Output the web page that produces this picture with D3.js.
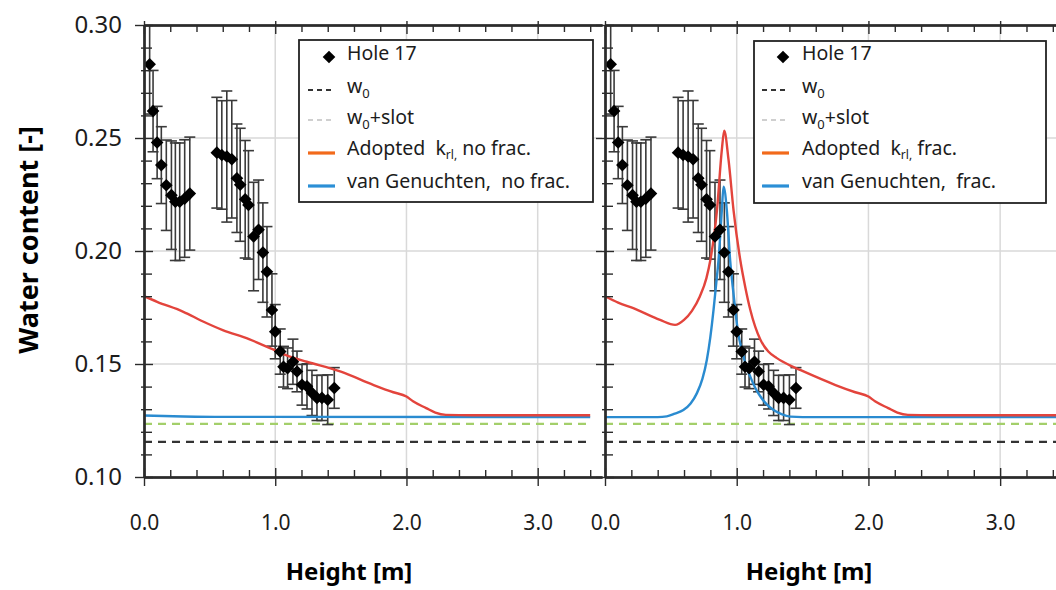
<!DOCTYPE html>
<html><head><meta charset="utf-8">
<script src="https://cdn.jsdelivr.net/npm/d3@7"></script>
<style>body{margin:0;background:#fff}svg{display:block}text{font-family:"Noto Sans",sans-serif}</style>
</head><body><svg id="c" width="1056" height="590"></svg>
<script>
// ---------- data ----------
const holeX = [0.043,0.069,0.100,0.132,0.170,0.209,0.239,0.272,0.310,0.349,
  0.555,0.593,0.631,0.669,0.708,0.733,0.771,0.796,0.835,0.873,0.906,0.937,
  0.975,1.000,1.038,1.063,1.094,1.135,1.166,1.204,1.242,1.280,1.318,1.356,1.400,1.450];
const holeY = [0.2826,0.2619,0.2480,0.2380,0.2291,0.2247,0.2218,0.2218,0.2232,0.2254,
  0.2435,0.2425,0.2418,0.2406,0.2322,0.2293,0.2229,0.2204,0.2064,0.2094,0.1993,0.1908,
  0.1739,0.1643,0.1555,0.1488,0.1481,0.1510,0.1467,0.1408,0.1401,0.1372,0.1350,0.1350,0.1342,0.1394];
const holeErr = [0.022,0.018,0.016,0.017,0.020,0.024,0.026,0.026,0.026,0.025,
  0.0245,0.024,0.029,0.026,0.024,0.025,0.026,0.024,0.024,0.022,0.022,0.020,
  0.016,0.012,0.010,0.009,0.009,0.010,0.009,0.009,0.010,0.010,0.010,0.010,0.011,0.009];

const w0 = 0.1155;
const w0slot = 0.1235;

const redLeftX = [0,0.1,0.3,0.45,0.6,0.8,0.96,1.1,1.24,1.5,1.75,1.9,2.0,2.05,2.15,2.22,2.3,2.5,3.4];
const redLeftY = [0.180,0.1775,0.1731,0.1688,0.1650,0.1610,0.1570,0.1535,0.1510,0.1466,0.1407,0.1375,0.1356,0.1335,0.1305,0.1285,0.1275,0.1273,0.1273];
const blueLeftX = [0,0.3,0.6,3.4];
const blueLeftY = [0.1272,0.1268,0.1266,0.1265];

const redRightX = [0,0.1,0.215,0.418,0.532,0.6,0.66,0.72,0.77,0.80,0.85,0.887,0.905,0.938,0.976,1.027,1.065,1.103,1.18,1.24,1.305,1.4,1.48,1.75,1.9,2.0,2.05,2.15,2.22,2.3,2.5,3.5];
const redRightY = [0.180,0.1772,0.1747,0.1695,0.1673,0.1695,0.1735,0.1799,0.188,0.196,0.218,0.2447,0.2532,0.2403,0.218,0.196,0.184,0.174,0.1607,0.1555,0.1526,0.1495,0.1474,0.1407,0.1375,0.1356,0.1335,0.1305,0.1285,0.1275,0.1273,0.1273];
const blueRightX = [0,0.4,0.469,0.53,0.595,0.65,0.697,0.74,0.773,0.8,0.824,0.845,0.862,0.887,0.90,0.925,0.95,0.97,0.989,1.01,1.04,1.07,1.103,1.14,1.18,1.23,1.28,1.34,1.407,1.5,3.5];
const blueRightY = [0.1265,0.1265,0.1268,0.128,0.1296,0.1325,0.137,0.1435,0.1518,0.162,0.1739,0.186,0.196,0.218,0.2285,0.218,0.196,0.184,0.1739,0.164,0.156,0.1495,0.1444,0.1395,0.1356,0.132,0.1296,0.1278,0.1267,0.1265,0.1265];

const xTicks = [0,1,2,3];
const xTickLabels = ["0.0","1.0","2.0","3.0"];
const yTicks = [0.10,0.15,0.20,0.25,0.30];
const yTickLabels = ["0.10","0.15","0.20","0.25","0.30"];

const legendLeft = ["Hole 17","w0","w0+slot","Adopted\u00a0\u00a0k_rl, no frac.","van Genuchten,\u00a0\u00a0no frac."];
const legendRight = ["Hole 17","w0","w0+slot","Adopted\u00a0\u00a0k_rl, frac.","van Genuchten,\u00a0\u00a0frac."];

// ---------- drawing ----------
const svg = d3.select("#c");
const y = d3.scaleLinear().domain([0.10,0.30]).range([477,25]);
const Y0 = 477, Y1 = 25;

const C = {axis:"#2b2b2b", grid:"#d9d9d9", red:"#e3443c", blue:"#2a8bd0", green:"#a3cf6a", black:"#333",
  legOrange:"#f26a1b", legBlue:"#2b8fd6", legGrey:"#cfcfcf", text:"#1c1c1c"};

const panels = [
  {range:[144,602], domain:[0,3.49], end:3.4, red:[redLeftX,redLeftY], blue:[blueLeftX,blueLeftY],
   legend:{x:299,y:40,w:294,h:162,sx0:308,sx1:335,dx:329,tx:347}, labels:legendLeft, showY:true, titleX:349},
  {range:[605,1066], domain:[0,3.5], end:3.5, red:[redRightX,redRightY], blue:[blueRightX,blueRightY],
   legend:{x:754,y:41,w:292,h:162,sx0:762,sx1:789,dx:783,tx:802}, labels:legendRight, showY:false, titleX:809}
];

const yMinor = d3.range(0.11,0.30,0.01).filter(v => Math.abs(v*20 - Math.round(v*20)) > 1e-6);

panels.forEach((p,pi) => {
  const x = d3.scaleLinear().domain(p.domain).range(p.range);
  const xMinor = d3.range(0.2,p.domain[1],0.2).filter(v => Math.abs(v - Math.round(v)) > 1e-6);
  const g = svg.append("g");

  // grid
  g.selectAll(".gx").data(xTicks.filter(v=>v>0)).join("line")
    .attr("x1",d=>x(d)).attr("x2",d=>x(d)).attr("y1",Y1).attr("y2",Y0)
    .attr("stroke",C.grid).attr("stroke-width",1.5);
  g.selectAll(".gy").data(yTicks.filter(v=>v>0.1 && v<0.3)).join("line")
    .attr("x1",p.range[0]).attr("x2",p.range[1]).attr("y1",d=>y(d)).attr("y2",d=>y(d))
    .attr("stroke",C.grid).attr("stroke-width",1.5);

  // clip
  const cid = "clip"+pi;
  svg.append("clipPath").attr("id",cid).append("rect")
    .attr("x",p.range[0]).attr("y",Y1).attr("width",p.range[1]-p.range[0]).attr("height",Y0-Y1);
  const plot = g.append("g").attr("clip-path",`url(#${cid})`);

  // reference lines
  [[w0,C.black],[w0slot,C.green]].forEach(([v,col]) => {
    plot.append("line").attr("x1",x(0)).attr("x2",x(p.end)).attr("y1",y(v)).attr("y2",y(v))
      .attr("stroke",col).attr("stroke-width",2.2).attr("stroke-dasharray","8,6");
  });

  // error bars
  const eb = plot.append("g").attr("stroke","#3a3a3a").attr("stroke-width",1.6);
  holeX.forEach((hx,i) => {
    const cx = x(hx), t = y(holeY[i]+holeErr[i]), b = y(holeY[i]-holeErr[i]);
    eb.append("line").attr("x1",cx).attr("x2",cx).attr("y1",t).attr("y2",b);
    eb.append("line").attr("x1",cx-5.5).attr("x2",cx+5.5).attr("y1",t).attr("y2",t);
    eb.append("line").attr("x1",cx-5.5).attr("x2",cx+5.5).attr("y1",b).attr("y2",b);
  });

  // curves
  const line = d3.line().x(d=>x(d[0])).y(d=>y(d[1])).curve(d3.curveMonotoneX);
  plot.append("path").datum(d3.zip(p.blue[0],p.blue[1])).attr("d",line)
    .attr("fill","none").attr("stroke",C.blue).attr("stroke-width",2.4);
  plot.append("path").datum(d3.zip(p.red[0],p.red[1])).attr("d",line)
    .attr("fill","none").attr("stroke",C.red).attr("stroke-width",2.4);

  // points
  const sym = d3.symbol().type(d3.symbolSquare).size(80);
  plot.selectAll(".pt").data(d3.zip(holeX,holeY)).join("path")
    .attr("d",sym).attr("fill","#000")
    .attr("transform",d=>`translate(${x(d[0])},${y(d[1])}) rotate(45)`);

  // axes
  const styleAxis = sel => { sel.select(".domain").attr("stroke",C.axis).attr("stroke-width",1.8);
    sel.selectAll(".tick line").attr("stroke",C.axis).attr("stroke-width",1.4); };

  const bot = g.append("g").attr("transform",`translate(0,${Y0})`)
    .call(d3.axisBottom(x).tickValues(xTicks).tickSize(9).tickSizeOuter(0).tickPadding(29)
      .tickFormat((d,i)=>xTickLabels[i]));
  bot.selectAll("text").attr("font-size",21).attr("fill",C.text).attr("font-family","Noto Sans");
  styleAxis(bot);
  g.append("g").attr("transform",`translate(0,${Y0})`)
    .call(d3.axisBottom(x).tickValues(xTicks).tickSize(-9).tickSizeOuter(0).tickFormat("")).call(styleAxis);
  g.append("g").attr("transform",`translate(0,${Y0})`)
    .call(d3.axisBottom(x).tickValues(xMinor).tickSize(-7).tickSizeOuter(0).tickFormat("")).call(styleAxis);

  g.append("g").attr("transform",`translate(0,${Y1})`)
    .call(d3.axisTop(x).tickValues(xTicks).tickSize(-9).tickSizeOuter(0).tickFormat("")).call(styleAxis);
  g.append("g").attr("transform",`translate(0,${Y1})`)
    .call(d3.axisTop(x).tickValues(xTicks).tickSize(4).tickSizeOuter(0).tickFormat("")).call(styleAxis);
  g.append("g").attr("transform",`translate(0,${Y1})`)
    .call(d3.axisTop(x).tickValues(xMinor).tickSize(-7).tickSizeOuter(0).tickFormat("")).call(styleAxis);

  const left = g.append("g").attr("transform",`translate(${p.range[0]},0)`)
    .call(d3.axisLeft(y).tickValues(yTicks).tickSize(9).tickSizeOuter(0).tickPadding(13)
      .tickFormat((d,i)=> p.showY ? yTickLabels[i] : ""));
  left.selectAll("text").attr("font-size",24).attr("fill",C.text).attr("font-family","Noto Sans");
  styleAxis(left);
  g.append("g").attr("transform",`translate(${p.range[0]},0)`)
    .call(d3.axisLeft(y).tickValues(yTicks).tickSize(-9).tickSizeOuter(0).tickFormat("")).call(styleAxis);
  g.append("g").attr("transform",`translate(${p.range[0]},0)`)
    .call(d3.axisLeft(y).tickValues(yMinor).tickSize(-8).tickSizeOuter(0).tickFormat("")).call(styleAxis);
  g.append("g").attr("transform",`translate(${p.range[0]},0)`)
    .call(d3.axisLeft(y).tickValues(yMinor).tickSize(3).tickSizeOuter(0).tickFormat("")).call(styleAxis);

  // x title
  svg.append("text").attr("x",p.titleX).attr("y",580).attr("text-anchor","middle")
    .attr("font-size",24).attr("font-weight","bold").attr("fill","#000").text("Height [m]");

  // legend
  const L = p.legend;
  const lg = svg.append("g");
  lg.append("rect").attr("x",L.x).attr("y",L.y).attr("width",L.w).attr("height",L.h)
    .attr("fill","#fff").attr("stroke","#222").attr("stroke-width",1.8);
  const rows = [57,90,120,153,186];
  const base = [60,93,124,155,188];
  lg.append("path").attr("d",sym).attr("fill","#000")
    .attr("transform",`translate(${L.dx},${rows[0]}) rotate(45)`);
  [[1,C.black,"5,4",1.8],[2,C.legGrey,"5,4",1.8],[3,C.legOrange,null,3.2],[4,C.legBlue,null,3.2]].forEach(([r,col,da,sw])=>{
    const l = lg.append("line").attr("x1",L.sx0).attr("x2",L.sx1).attr("y1",rows[r]).attr("y2",rows[r])
      .attr("stroke",col).attr("stroke-width",sw);
    if (da) l.attr("stroke-dasharray",da);
  });
  p.labels.forEach((lab,i) => {
    const t = lg.append("text").attr("x",L.tx).attr("y",base[i]).attr("font-size",19.5).attr("fill",C.text);
    if (lab.startsWith("w0")) {
      t.append("tspan").text("w");
      t.append("tspan").attr("font-size",13).attr("dy",5).text("0");
      if (lab.length > 2) t.append("tspan").attr("dy",-5).text(lab.slice(2));
    } else if (lab.includes("k_rl")) {
      const [a,b] = lab.split("k_rl");
      t.append("tspan").text(a+"k");
      t.append("tspan").attr("font-size",12).attr("dy",4).text("rl,");
      t.append("tspan").attr("dy",-4).text(b.replace(/^,/,""));
    } else {
      t.text(lab);
    }
  });
});

// y title
svg.append("text").attr("transform","translate(38,240) rotate(-90)").attr("text-anchor","middle")
  .attr("font-size",27).attr("font-weight","bold").attr("fill","#000").text("Water content [-]");
</script></body></html>
